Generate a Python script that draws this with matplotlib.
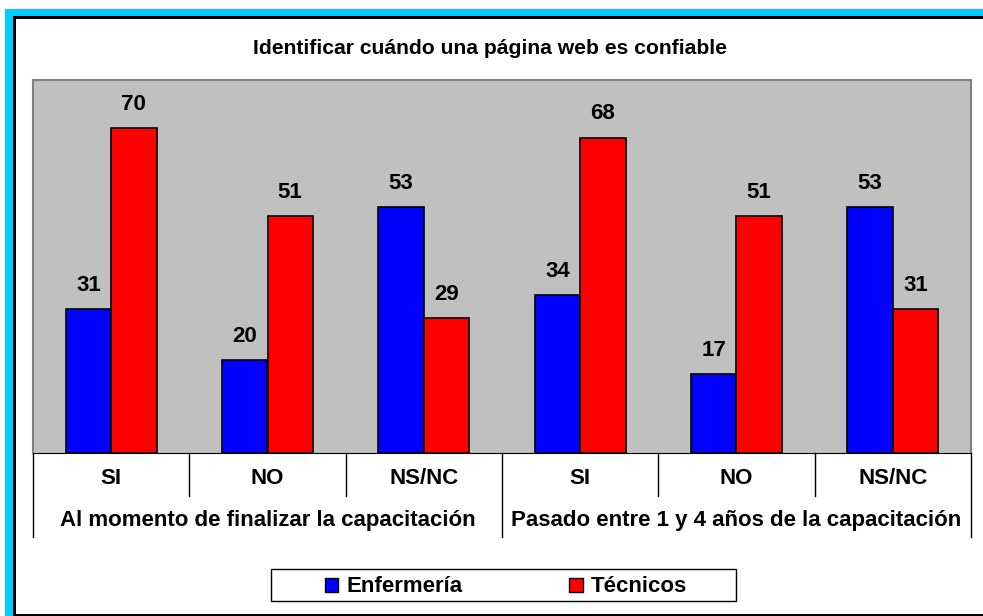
import matplotlib.pyplot as plt
from matplotlib.patches import Rectangle, Patch
import numpy as np

plt.rcParams['font.family'] = ['Liberation Sans', 'DejaVu Sans']

categorias = ['SI', 'NO', 'NS/NC', 'SI', 'NO', 'NS/NC']
grupos = ['Al momento de finalizar la capacitación',
          'Pasado entre 1 y 4 años de la capacitación']
enfermeria = [31, 20, 53, 34, 17, 53]
tecnicos = [70, 51, 29, 68, 51, 31]

W, H = 983, 616
fig = plt.figure(figsize=(W / 100, H / 100), dpi=100)
fig.patch.set_facecolor('white')

# marco celeste + borde negro
fig.add_artist(Rectangle((5 / W, 0), 8 / W, 1 - 9 / H, transform=fig.transFigure,
                         color='#00CCFF', lw=0))
fig.add_artist(Rectangle((5 / W, 1 - 17 / H), 1, 8 / H, transform=fig.transFigure,
                         color='#00CCFF', lw=0))
fig.add_artist(Rectangle((13 / W, 1 - 19 / H), 1, 2.5 / H, transform=fig.transFigure,
                         color='black', lw=0))
fig.add_artist(Rectangle((13 / W, 0), 2.5 / W, 1 - 17 / H, transform=fig.transFigure,
                         color='black', lw=0))
fig.add_artist(Rectangle((13 / W, 0), 1, 2 / H, transform=fig.transFigure,
                         color='black', lw=0))

ax = fig.add_axes([33 / W, (H - 453) / H, (971 - 33) / W, (453 - 80) / H])
ax.set_facecolor('#C0C0C0')
for s in ['top', 'left', 'right']:
    ax.spines[s].set_color('#808080')
    ax.spines[s].set_linewidth(1.5)
ax.spines['bottom'].set_color('black')

x = np.arange(len(categorias))
w = 0.29
b1 = ax.bar(x - w / 2, enfermeria, w, color='#0000FF', edgecolor='black', lw=1.2)
b2 = ax.bar(x + w / 2, tecnicos, w, color='#FF0000', edgecolor='black', lw=1.2)
for bars, vals in [(b1, enfermeria), (b2, tecnicos)]:
    for r, v in zip(bars, vals):
        ax.annotate(str(v), (r.get_x() + r.get_width() / 2, v), xytext=(0, 17),
                    textcoords='offset points', ha='center', va='center',
                    fontsize=16, fontweight='bold')

ax.set_xlim(-0.5, 5.5)
ax.set_ylim(0, 80.4)
ax.set_xticks([])
ax.set_yticks([])

tr = ax.get_xaxis_transform()
for i in range(len(categorias) + 1):
    low = -0.225 if i in (0, 3, 6) else -0.115
    ax.plot([i - 0.5, i - 0.5], [0, low], color='black', lw=1, transform=tr, clip_on=False)
for i, c in enumerate(categorias):
    ax.text(i, -0.068, c, transform=tr, ha='center', va='center',
            fontsize=16, fontweight='bold')
for j, g in enumerate(grupos):
    ax.text(3 * j + 1, -0.18, g, transform=tr, ha='center', va='center',
            fontsize=16, fontweight='bold')

fig.text(490 / W, 1 - 48 / H, 'Identificar cuándo una página web es confiable',
         ha='center', va='center', fontsize=15.2, fontweight='bold')

# leyenda
fig.add_artist(Rectangle((271 / W, 1 - 601 / H), 465 / W, 32 / H, transform=fig.transFigure,
                         facecolor='white', edgecolor='black', lw=1))
handles = [Patch(facecolor='#0000FF', edgecolor='black', label='Enfermería'),
           Patch(facecolor='#FF0000', edgecolor='black', label='Técnicos')]
fig.legend(handles=handles, loc='center', bbox_to_anchor=(506 / W, 1 - 587 / H),
           ncol=2, frameon=False, prop={'weight': 'bold', 'size': 16},
           handlelength=0.6, handleheight=0.6, handletextpad=0.36, columnspacing=4.8)

fig.savefig('out.png', dpi=100)
